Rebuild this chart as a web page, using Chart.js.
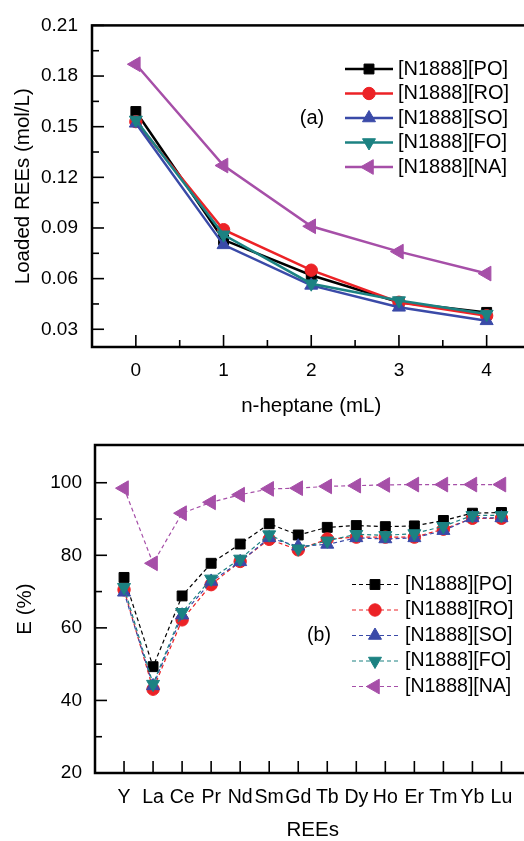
<!DOCTYPE html>
<html>
<head>
<meta charset="utf-8">
<script src="https://cdn.jsdelivr.net/npm/chart.js"></script>
<style>
  html, body { margin: 0; padding: 0; background: #fff; overflow: hidden; width: 524px; height: 841px; }
  .box { width: 540px; height: 420px; }
  #boxB { height: 421px; }
  canvas { display: block; }
</style>
</head>
<body>
<div class="box"><canvas id="chartA" width="540" height="420"></canvas></div>
<div class="box" id="boxB"><canvas id="chartB" width="540" height="421"></canvas></div>
<script>
// --- data -------------------------------------------------------------
const seriesNames = ["[N1888][PO]", "[N1888][RO]", "[N1888][SO]", "[N1888][FO]", "[N1888][NA]"];

// (a) loaded REEs vs n-heptane
const heptaneML = [0, 1, 2, 3, 4];
const loadedPO = [0.159, 0.083, 0.062, 0.046, 0.040];
const loadedRO = [0.153, 0.089, 0.065, 0.046, 0.038];
const loadedSO = [0.152, 0.080, 0.056, 0.043, 0.035];
const loadedFO = [0.154, 0.086, 0.057, 0.047, 0.039];
const loadedNA = [0.187, 0.127, 0.091, 0.076, 0.063];
const loadedTicks = [0.03, 0.06, 0.09, 0.12, 0.15, 0.18, 0.21];

// (b) extraction efficiency per REE
const reeNames = ["Y", "La", "Ce", "Pr", "Nd", "Sm", "Gd", "Tb", "Dy", "Ho", "Er", "Tm", "Yb", "Lu"];
const ePO = [73.9, 49.3, 68.8, 77.8, 83.1, 88.7, 85.6, 87.7, 88.2, 87.9, 88.1, 89.6, 91.6, 91.8];
const eRO = [70.5, 43.1, 62.2, 71.9, 78.3, 84.4, 81.5, 84.5, 85.0, 85.0, 85.0, 87.2, 90.2, 90.2];
const eSO = [69.8, 44.0, 63.5, 72.8, 78.2, 84.8, 82.5, 83.0, 84.8, 84.5, 84.8, 86.8, 90.3, 90.3];
const eFO = [71.2, 44.5, 64.3, 73.5, 79.0, 85.7, 81.8, 84.0, 85.8, 85.5, 86.0, 88.0, 91.0, 91.0];
const eNA = [98.5, 77.8, 91.6, 94.6, 96.7, 98.3, 98.5, 99.0, 99.2, 99.4, 99.5, 99.5, 99.5, 99.5];
const eTicks = [20, 40, 60, 80, 100];

// --- styles -----------------------------------------------------------
const colors = ["#000000", "#ec2226", "#3a4aa8", "#1c8282", "#a64fa8"];
const pStyles = ["rect", "circle", "triangle", "triangle", "triangle"];
const pRot = [0, 0, 0, 180, -90];
const pRad = [7, 6.2, 7.5, 7.5, 8.5];
const FONT = "'Liberation Sans', Arial, sans-serif";

Chart.defaults.font.family = FONT;
Chart.defaults.color = "#000";

function makeSets(xs, ys, solid) {
  return ys.map((vals, i) => ({
    label: seriesNames[i],
    data: vals.map((v, k) => ({ x: xs[k], y: v })),
    borderColor: colors[i],
    backgroundColor: colors[i],
    pointBackgroundColor: colors[i],
    pointBorderColor: colors[i],
    pointBorderWidth: 1,
    pointStyle: pStyles[i],
    pointRotation: pRot[i],
    pointRadius: pRad[i],
    borderWidth: solid ? 2.5 : 1.2,
    borderDash: solid ? [] : [4, 3],
    tension: 0,
    clip: false,
    order: -i
  }));
}

// frame, inward ticks, legend and panel tag
const decor = {
  id: "decor",
  afterDraw(chart, args, o) {
    const ctx = chart.ctx, a = chart.chartArea;
    const xs = chart.scales.x, ys = chart.scales.y;
    ctx.save();
    ctx.strokeStyle = "#000";
    ctx.lineWidth = 1.6;
    o.xMajor.forEach(v => { const p = xs.getPixelForValue(v); ctx.beginPath(); ctx.moveTo(p, a.bottom); ctx.lineTo(p, a.bottom - o.len[0]); ctx.stroke(); });
    o.xMinor.forEach(v => { const p = xs.getPixelForValue(v); ctx.beginPath(); ctx.moveTo(p, a.bottom); ctx.lineTo(p, a.bottom - o.len[1]); ctx.stroke(); });
    o.yMajor.forEach(v => { const p = ys.getPixelForValue(v); ctx.beginPath(); ctx.moveTo(a.left, p); ctx.lineTo(a.left + o.len[0], p); ctx.stroke(); });
    o.yMinor.forEach(v => { const p = ys.getPixelForValue(v); ctx.beginPath(); ctx.moveTo(a.left, p); ctx.lineTo(a.left + o.len[1], p); ctx.stroke(); });
    ctx.lineWidth = 2.5;
    ctx.strokeRect(a.left, a.top, a.right - a.left, a.bottom - a.top);

    // legend
    chart.data.datasets.forEach((ds, i) => {
      const y = o.legY + i * o.legGap;
      ctx.strokeStyle = ds.borderColor;
      ctx.fillStyle = ds.borderColor;
      ctx.lineWidth = ds.borderWidth;
      ctx.setLineDash(ds.borderDash);
      ctx.beginPath(); ctx.moveTo(o.legX0, y); ctx.lineTo(o.legX1, y); ctx.stroke();
      ctx.setLineDash([]);
      ctx.lineWidth = 1;
      Chart.helpers.drawPoint(ctx, { pointStyle: ds.pointStyle, rotation: ds.pointRotation, radius: ds.pointRadius, borderWidth: 1 }, (o.legX0 + o.legX1) / 2, y);
      ctx.fillStyle = "#000";
      ctx.font = o.legFont + "px " + FONT;
      ctx.textBaseline = "middle";
      ctx.textAlign = "left";
      ctx.fillText(ds.label, o.legText, y);
    });
    ctx.font = o.legFont + "px " + FONT;
    ctx.textAlign = "center";
    ctx.fillText(o.tag, o.tagX, o.tagY);
    ctx.restore();
  }
};

// --- chart (a) -------------------------------------------------------
new Chart("chartA", {
  type: "line",
  data: { datasets: makeSets(heptaneML, [loadedPO, loadedRO, loadedSO, loadedFO, loadedNA], true) },
  options: {
    responsive: false,
    animation: false,
    layout: { padding: { top: 23, right: 8, left: 0, bottom: 0 } },
    plugins: {
      legend: { display: false },
      tooltip: { enabled: false },
      decor: {
        xMajor: heptaneML, xMinor: [0.5, 1.5, 2.5, 3.5],
        yMajor: loadedTicks, yMinor: [0.045, 0.075, 0.105, 0.135, 0.165, 0.195],
        len: [12, 7],
        legX0: 345, legX1: 393, legText: 398, legY: 69, legGap: 24.5, legFont: 20,
        tag: "(a)", tagX: 312, tagY: 118
      }
    },
    scales: {
      x: {
        type: "linear", min: -0.5, max: 4.5,
        afterBuildTicks: s => { s.ticks = heptaneML.map(v => ({ value: v })); },
        afterFit: s => { s.height = 73; },
        grid: { display: false, drawTicks: false },
        border: { display: false },
        ticks: { padding: 12, font: { size: 19 }, callback: v => String(v) },
        title: { display: true, text: "n-heptane (mL)", font: { size: 20.5, lineHeight: 1 }, padding: { bottom: 3, top: 0 } }
      },
      y: {
        min: 0.0195, max: 0.21,
        afterBuildTicks: s => { s.ticks = loadedTicks.map(v => ({ value: v })); },
        afterFit: s => { s.width = 92; },
        grid: { display: false, drawTicks: false },
        border: { display: false },
        ticks: { padding: 14, font: { size: 19 }, callback: v => v.toFixed(2) },
        title: { display: true, text: "Loaded REEs (mol/L)", font: { size: 20.5, lineHeight: 1 }, padding: { top: 13, bottom: 0 } }
      }
    }
  },
  plugins: [decor]
});

// --- chart (b) -------------------------------------------------------
const reeIdx = reeNames.map((n, i) => i);
new Chart("chartB", {
  type: "line",
  data: { datasets: makeSets(reeIdx, [ePO, eRO, eSO, eFO, eNA], false) },
  options: {
    responsive: false,
    animation: false,
    layout: { padding: { top: 25, right: 5.8, left: 0, bottom: 0 } },
    plugins: {
      legend: { display: false },
      tooltip: { enabled: false },
      decor: {
        xMajor: reeIdx, xMinor: [],
        yMajor: eTicks, yMinor: [30, 50, 70, 90],
        len: [12, 7],
        legX0: 352, legX1: 398, legText: 405, legY: 164.5, legGap: 25.5, legFont: 19.5,
        tag: "(b)", tagX: 319, tagY: 216
      }
    },
    scales: {
      x: {
        type: "linear", min: -1, max: 14,
        afterBuildTicks: s => { s.ticks = reeIdx.map(v => ({ value: v })); },
        afterFit: s => { s.height = 68; },
        grid: { display: false, drawTicks: false },
        border: { display: false },
        ticks: { padding: 13, font: { size: 19.5 }, autoSkip: false, maxRotation: 0, callback: v => reeNames[v] },
        title: { display: true, text: "REEs", font: { size: 20.5, lineHeight: 1 }, padding: { bottom: 0, top: 0 } }
      },
      y: {
        min: 20, max: 110.4,
        afterBuildTicks: s => { s.ticks = eTicks.map(v => ({ value: v })); },
        afterFit: s => { s.width = 95; },
        grid: { display: false, drawTicks: false },
        border: { display: false },
        ticks: { padding: 13, font: { size: 19 }, callback: v => String(v) },
        title: { display: true, text: "E (%)", font: { size: 20.5, lineHeight: 1 }, padding: { top: 15, bottom: 0 } }
      }
    }
  },
  plugins: [decor]
});
</script>
</body>
</html>
